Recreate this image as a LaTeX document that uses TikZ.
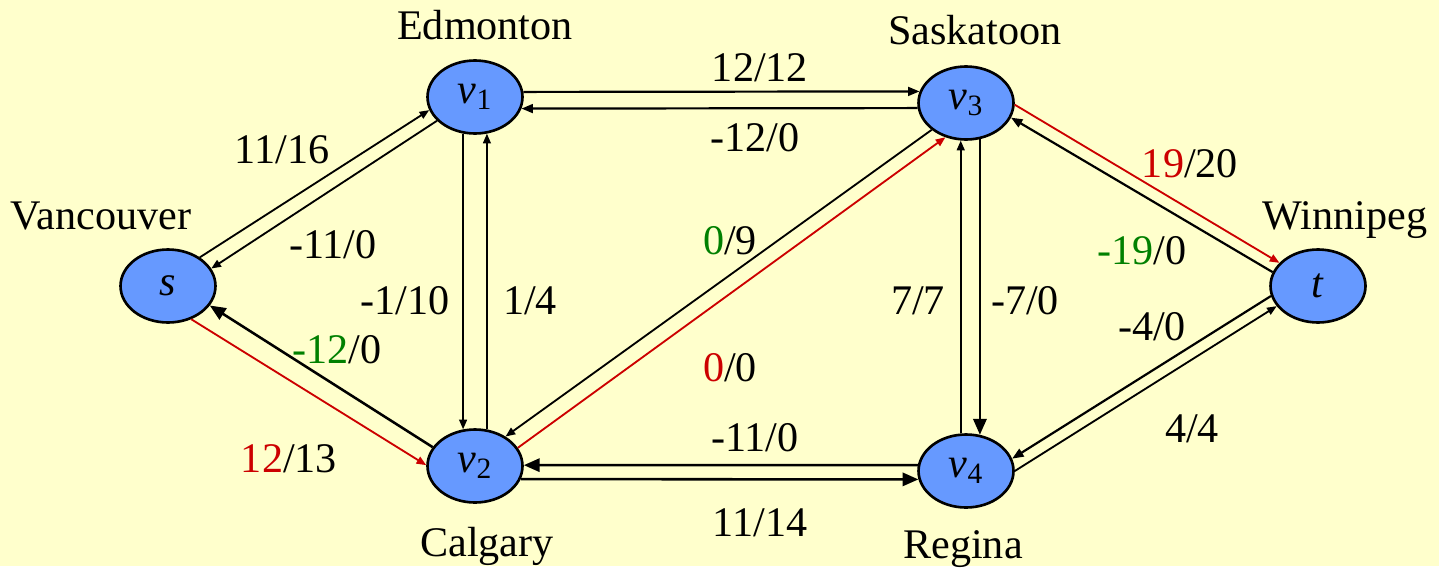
\documentclass[tikz,border=0pt]{standalone}
\usepackage{fontspec}
\setmainfont{Liberation Serif}
\usepackage{tikz}
\usetikzlibrary{arrows.meta,shapes.geometric,positioning}
\usepackage{xcolor}
\definecolor{paper}{HTML}{FFFFCC}
\definecolor{cityblue}{HTML}{6699FF}
\definecolor{augred}{HTML}{CC0000}
\definecolor{resgreen}{HTML}{008000}
\tikzset{citynode/.style={ellipse,draw=black,fill=cityblue,line width=1.5pt,minimum width=1.9cm,minimum height=1.46cm,inner sep=0pt,font=\fontsize{24}{28}\selectfont}, cityname/.style={font=\fontsize{24}{28}\selectfont,inner sep=0pt,anchor=base}, flowlabel/.style={font=\fontsize{24}{28}\selectfont,inner sep=0pt,anchor=base},flowline/.style={-{Triangle[length=5.5pt,width=4.4pt]},line width=1.05pt},midline/.style={-{Triangle[length=6.5pt,width=5pt]},line width=1.25pt},heavyline/.style={-{Triangle[length=9pt,width=7.5pt]},line width=1.45pt},augline/.style={flowline,draw=augred}}

\begin{document}
\begin{tikzpicture}[x=0.02cm,y=-0.02cm]
\fill[paper] (0,0) rectangle (1439,566);
\node[citynode] (s) at (168,286) {\textit{s}};
\node[citynode] (v1) at (475,97) {\textit{v}\textsubscript{1}};
\node[citynode] (v2) at (475,466) {\textit{v}\textsubscript{2}};
\node[citynode] (v3) at (966,103) {\textit{v}\textsubscript{3}};
\node[citynode] (v4) at (966,471) {\textit{v}\textsubscript{4}};
\node[citynode] (t) at (1318,286) {\textit{t}};
\node[cityname] (edm) at (485,39) {Edmonton};
\node[cityname] (sas) at (975,44) {Saskatoon};
\node[cityname] (van) at (101,229) {Vancouver};
\node[cityname] (win) at (1345,229) {Winnipeg};
\node[cityname] (cal) at (487,556) {Calgary};
\node[cityname] (reg) at (963,558) {Regina};
\draw[flowline] (s.42) -- (v1.196);
\draw[flowline] (v1.212) -- (s.22);
\draw[augline] (s.305) -- (v2.179);
\draw[heavyline] (v2.156) -- (s.335);
\draw[flowline] (v1.252) -- (v2.108);
\draw[flowline] (v2.72) -- (v1.288);
\draw[midline] (v1.6) -- (v3.166);
\draw[midline] (v3.186) -- (v1.346);
\draw[flowline] (v3.218) -- (v2.44);
\draw[augline] (v2.23) -- (v3.239);
\draw[heavyline] (v2.344) -- (v4.190);
\draw[heavyline] (v4.173) -- (v2.1);
\draw[heavyline] (v3.291) -- (v4.69);
\draw[flowline] (v4.98) -- (v3.262);
\draw[augline] (v3.358) -- (t.149);
\draw[midline] (t.163) -- (v3.342);
\draw[midline] (t.192) -- (v4.15);
\draw[flowline] (v4.0) -- (t.206);
\node[flowlabel] (f13) at (760,81) {12/12};
\node[flowlabel] (r31) at (755,151) {-12/0};
\node[flowlabel] (fs1) at (282,163) {11/16};
\node[flowlabel] (r1s) at (333,258) {-11/0};
\node[flowlabel] (f12) at (405,314) {-1/10};
\node[flowlabel] (f21) at (530,314) {1/4};
\node[flowlabel] (f32) at (730,254) {\textcolor{resgreen}{0}/9};
\node[flowlabel] (f23) at (730,381) {\textcolor{augred}{0}/0};
\node[flowlabel] (f43) at (918,314) {7/7};
\node[flowlabel] (f34) at (1025,314) {-7/0};
\node[flowlabel] (f3t) at (1190,177) {\textcolor{augred}{19}/20};
\node[flowlabel] (rt3) at (1142,264) {\textcolor{resgreen}{-19}/0};
\node[flowlabel] (rt4) at (1152,340) {-4/0};
\node[flowlabel] (f4t) at (1192,442) {4/4};
\node[flowlabel] (r2s) at (337,363) {\textcolor{resgreen}{-12}/0};
\node[flowlabel] (fs2) at (289,472) {\textcolor{augred}{12}/13};
\node[flowlabel] (r42) at (755,451) {-11/0};
\node[flowlabel] (f24) at (760,536) {11/14};
\end{tikzpicture}
\end{document}
